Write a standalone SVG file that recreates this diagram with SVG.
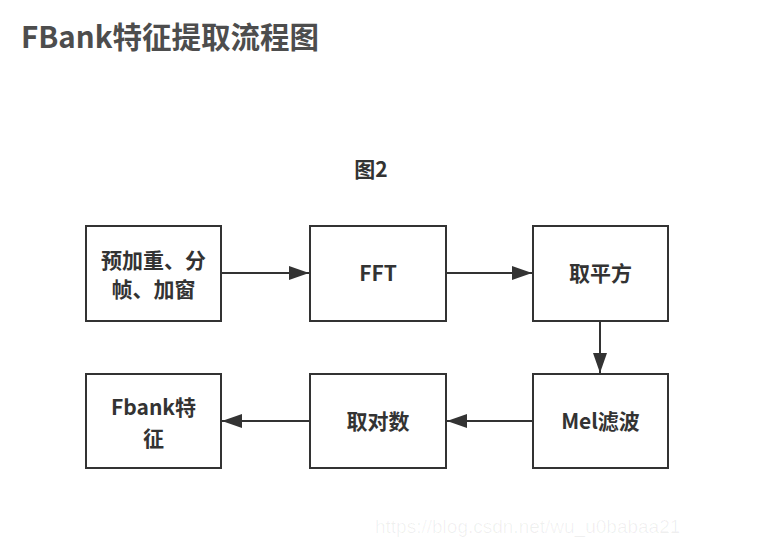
<svg xmlns="http://www.w3.org/2000/svg" width="757" height="548" viewBox="0 0 757 548">
<style>
.box{fill:#fff;stroke:#333;stroke-width:2}
.t{font-family:"Noto Sans CJK SC","Noto Sans",sans-serif;font-weight:bold;font-size:21px;fill:#333;text-anchor:middle}
.c{stroke:#333;stroke-width:2;fill:none}
</style>
<defs>
<marker id="a" viewBox="0 0 20 14" refX="20" refY="7" markerWidth="20" markerHeight="14" orient="auto" markerUnits="userSpaceOnUse">
<path d="M0,0 L20,7 L0,14 Z" fill="#333"/>
</marker>
</defs>
<rect width="757" height="548" fill="#fff"/>
<text x="21" y="48" font-family="'Noto Sans CJK SC','Noto Sans',sans-serif" font-weight="bold" font-size="29.5" fill="#4d4d4d">FBank特征提取流程图</text>
<text x="371" y="177" class="t" font-size="19">图2</text>
<g id="connectors">
<line class="c" x1="221" y1="273" x2="309" y2="273" marker-end="url(#a)"/>
<line class="c" x1="446" y1="273" x2="532" y2="273" marker-end="url(#a)"/>
<line class="c" x1="600" y1="321" x2="600" y2="373" marker-end="url(#a)"/>
<line class="c" x1="533" y1="421" x2="447" y2="421" marker-end="url(#a)"/>
<line class="c" x1="310" y1="421" x2="222" y2="421" marker-end="url(#a)"/>
</g>
<g id="n1"><rect class="box" x="86" y="226" width="135" height="95"/>
<text class="t" x="153.5" y="268">预加重、分</text><text class="t" x="153.5" y="297">帧、加窗</text></g>
<g id="n2"><rect class="box" x="310" y="226" width="136" height="95"/>
<text class="t" x="378" y="281">FFT</text></g>
<g id="n3"><rect class="box" x="533" y="226" width="135" height="95"/>
<text class="t" x="600.5" y="281">取平方</text></g>
<g id="n4"><rect class="box" x="533" y="374" width="135" height="94"/>
<text class="t" x="600.5" y="429">Mel滤波</text></g>
<g id="n5"><rect class="box" x="310" y="374" width="136" height="94"/>
<text class="t" x="378" y="429">取对数</text></g>
<g id="n6"><rect class="box" x="86" y="374" width="135" height="94"/>
<text class="t" x="153.5" y="415">Fbank特</text><text class="t" x="153.5" y="446">征</text></g>
<text x="375" y="533" font-family="'Liberation Sans',sans-serif" font-size="19" fill="#000" fill-opacity="0.06">https://blog.csdn.net/wu_u0babaa21</text>
</svg>
